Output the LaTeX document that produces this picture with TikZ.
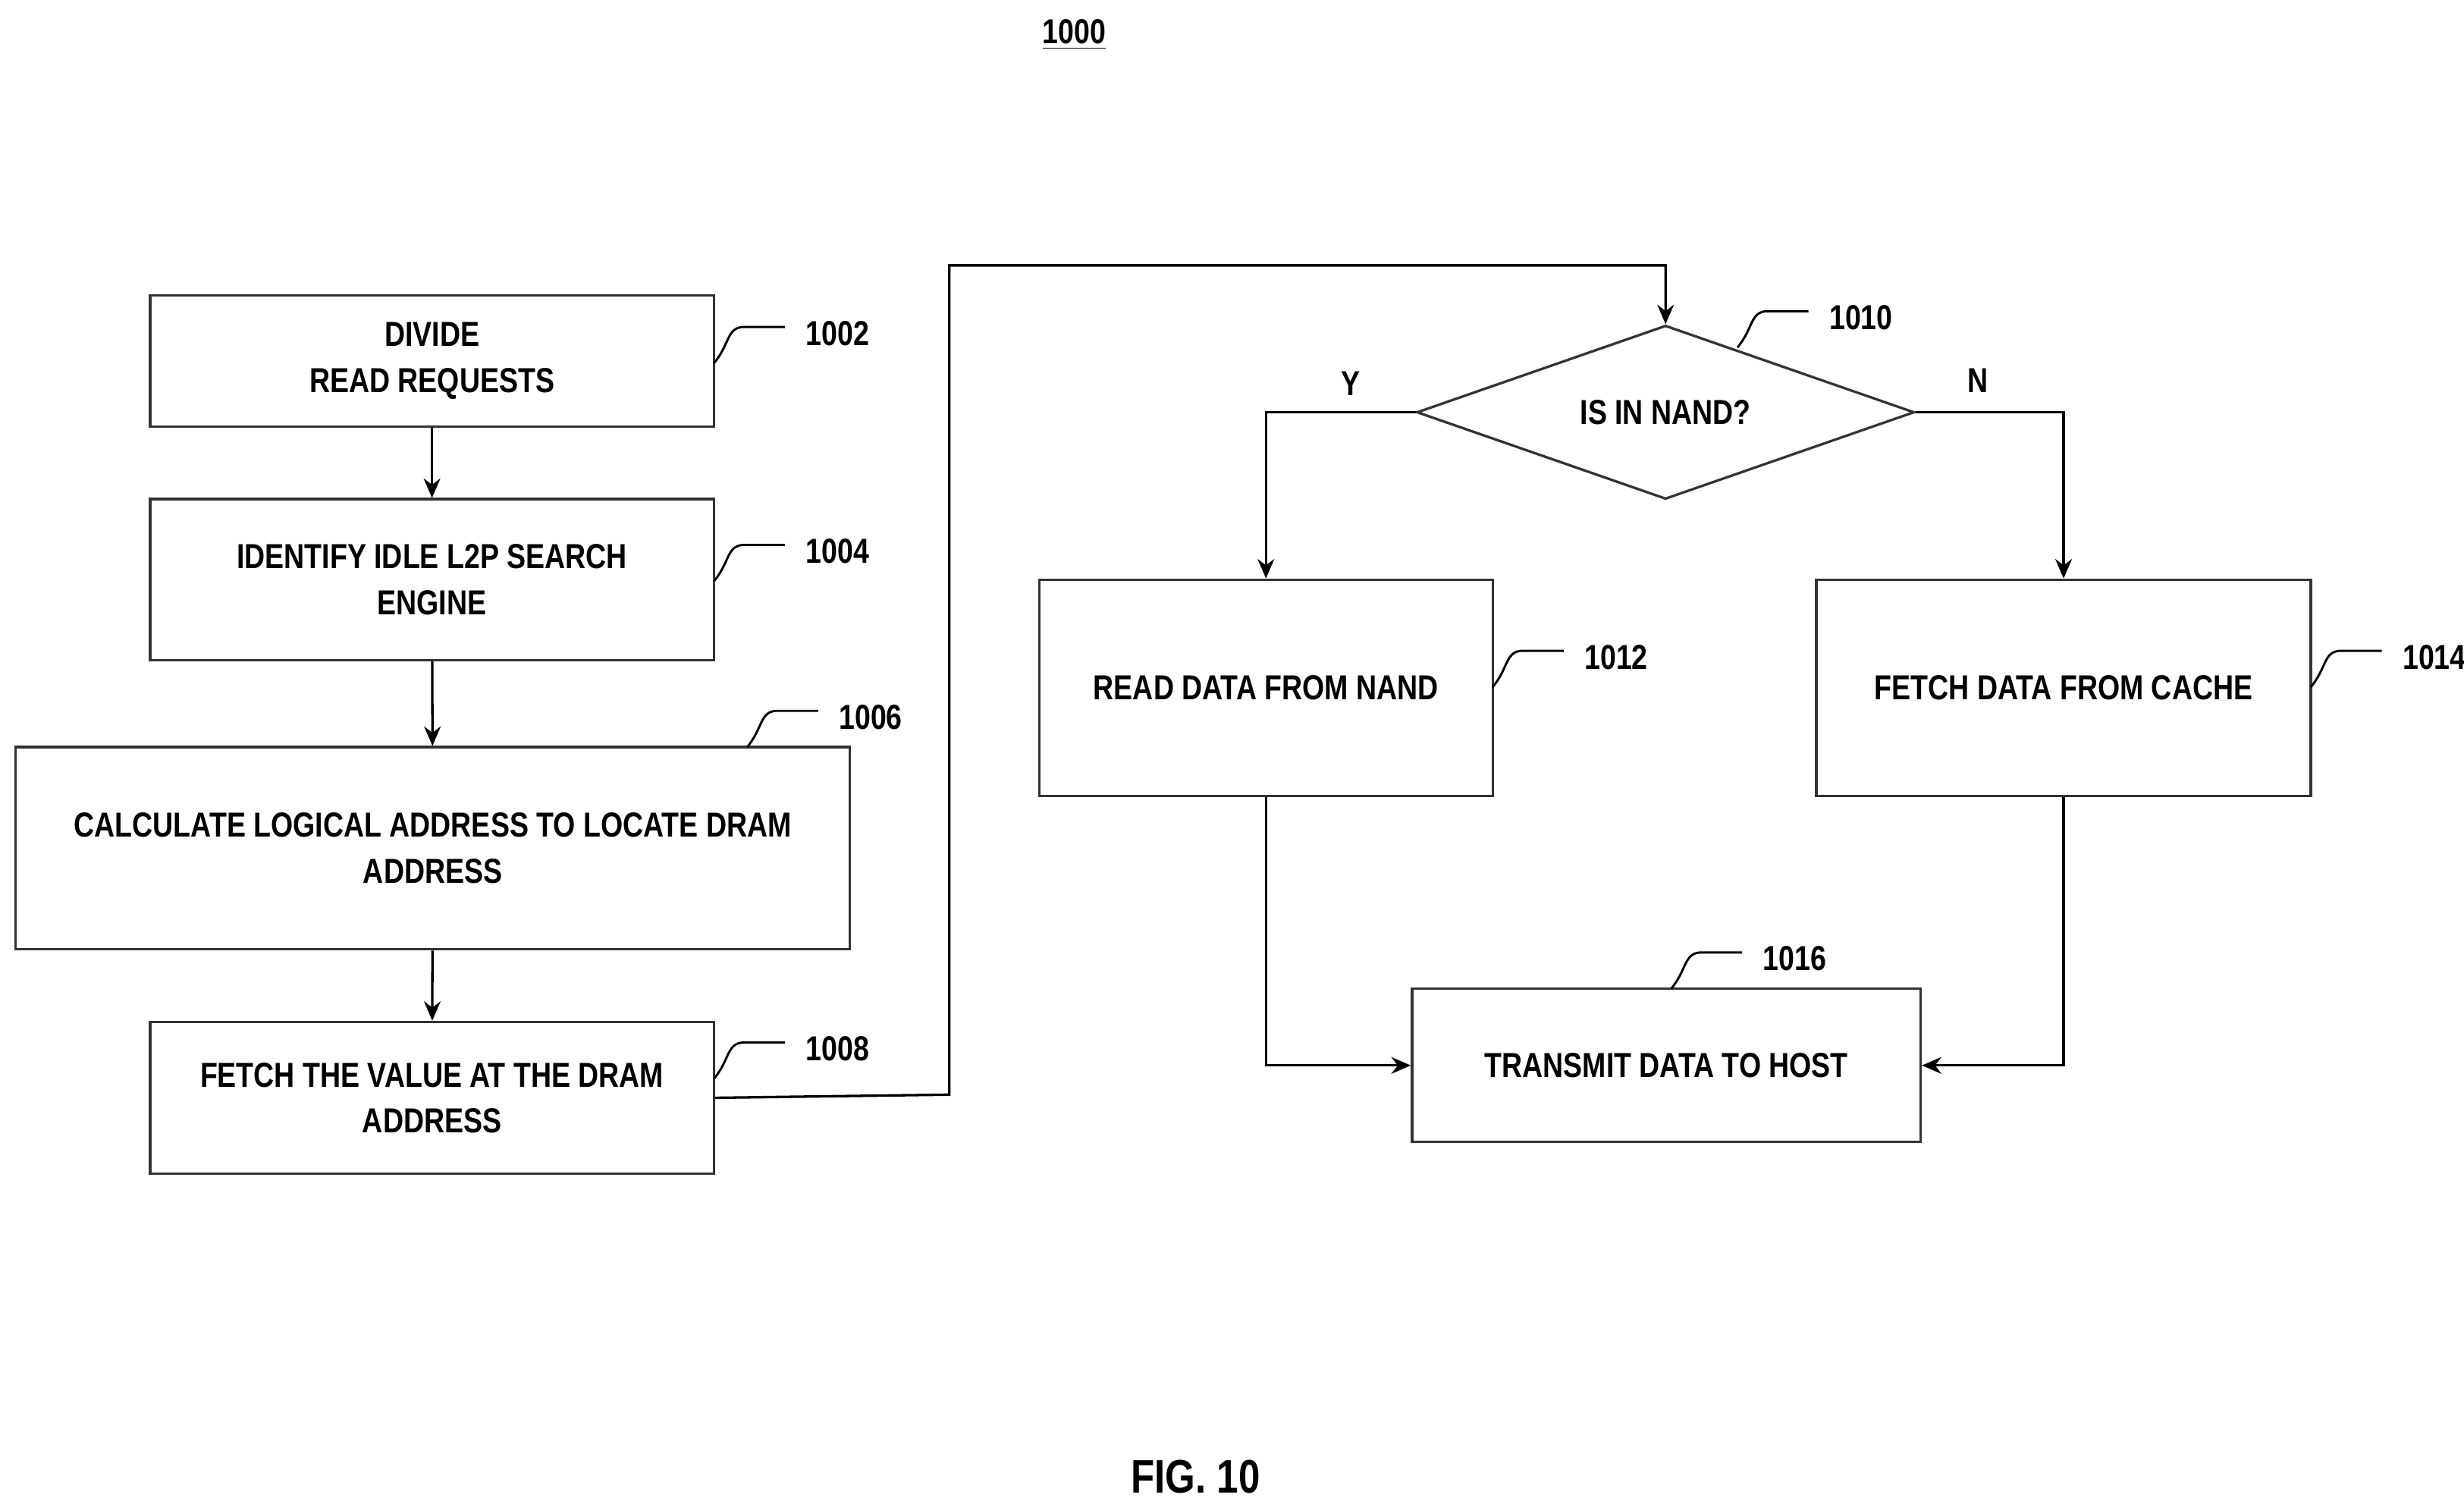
\documentclass[tikz,border=0pt]{standalone}
\usepackage{fontspec}
\setmainfont{Liberation Sans}[FakeStretch=0.82]
\usetikzlibrary{arrows.meta,shapes.geometric}
\begin{document}
\begin{tikzpicture}[x=0.02cm,y=-0.02cm]
\tikzstyle{every node}+=[font=\bfseries\fontsize{12.5}{16.5}\selectfont]
\tikzstyle{box}=[draw=black!80,line width=0.9pt,align=center,inner sep=0pt]
\tikzstyle{flow}=[draw,line width=0.9pt,-{Stealth[length=7pt,width=6pt]}]
\tikzstyle{lead}=[draw,line width=0.8pt]
\useasboundingbox (0,0) rectangle (1560,953.6);
\node (title) at (680,22) {\underline{1000}};
\node (fig) at (757,935) {\fontsize{17}{20}\selectfont FIG. 10};
\node [box,minimum width=357*0.02cm,minimum height=83*0.02cm] (b1002) at (273.5,228.5) {DIVIDE\\READ REQUESTS};
\node [box,minimum width=357*0.02cm,minimum height=102*0.02cm] (b1004) at (273.5,367) {IDENTIFY IDLE L2P SEARCH\\ENGINE};
\node [box,minimum width=528*0.02cm,minimum height=128*0.02cm] (b1006) at (274,537) {CALCULATE LOGICAL ADDRESS TO LOCATE DRAM\\ADDRESS};
\node [box,minimum width=357*0.02cm,minimum height=96*0.02cm] (b1008) at (273.5,695) {FETCH THE VALUE AT THE DRAM\\ADDRESS};
\node [box,diamond,aspect=2.86,minimum width=315*0.02cm,minimum height=110*0.02cm] (d1010) at (1054.5,261) {IS IN NAND?};
\node [box,minimum width=287*0.02cm,minimum height=137*0.02cm] (b1012) at (801.5,435.5) {READ DATA FROM NAND};
\node [box,minimum width=313*0.02cm,minimum height=137*0.02cm] (b1014) at (1306.5,435.5) {FETCH DATA FROM CACHE};
\node [box,minimum width=322*0.02cm,minimum height=97*0.02cm] (b1016) at (1055,674.5) {TRANSMIT DATA TO HOST};
% flow
\draw [flow] (b1002) -- (b1004);
\draw [flow] (b1004) -- (b1006);
\draw [flow] (b1006) -- (b1008);
\draw [flow] (b1008.east) -- (601,693) -- (601,168) -| (d1010.north);
\draw [flow] (d1010.west) -| (b1012.north);
\draw [flow] (d1010.east) -| (b1014.north);
\draw [flow] (b1012.south) |- (b1016.west);
\draw [flow] (b1014.south) |- (b1016.east);
\node (y) at (855,243) {Y};
\node (n) at (1252,241) {N};
% reference labels
\foreach \x/\y/\t in {452/230/1002,452/368/1004,473/473/1006,452/683/1008,1100/220/1010,945/435/1012,1463/435/1014,1058/626/1016}{
  \draw [lead] (\x,\y) .. controls (\x+10,\y-12) and (\x+8,\y-22) .. (\x+18,\y-23) -- (\x+45,\y-23);
  \node [anchor=west] at (\x+52,\y-19) {\t};
}
\end{tikzpicture}
\end{document}
